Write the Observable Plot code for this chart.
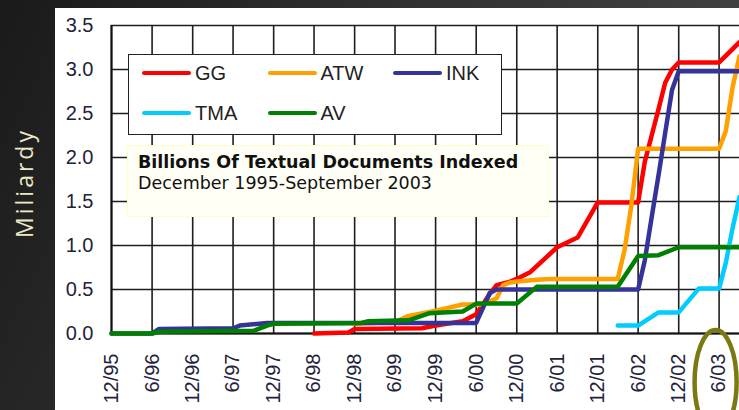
<!DOCTYPE html>
<html>
<head>
<meta charset="utf-8">
<script src="https://cdn.jsdelivr.net/npm/d3@7"></script>
<script src="https://cdn.jsdelivr.net/npm/@observablehq/plot@0.6"></script>
<style>
html, body { margin: 0; padding: 0; }
body {
  width: 739px; height: 410px; overflow: hidden; position: relative;
  background: linear-gradient(115deg, #1a1a1a 0%, #2c2c2c 35%, #4a4a4a 100%);
}
#ylab {
  position: absolute; left: 24px; top: 183px;
  transform: translate(-50%, -50%) rotate(-90deg);
  color: #eee8c6; font: 23px "Open Sans", sans-serif; letter-spacing: 3px; white-space: nowrap;
}
#panel { position: absolute; left: 55px; top: 8px; width: 684px; height: 402px; background: #fff; overflow: hidden; }
#legend {
  position: absolute; left: 73px; top: 46px; width: 374px; height: 81px; box-sizing: border-box;
  border: 1.5px solid #222; background: #fff;
}
.item { position: absolute; display: flex; align-items: center; height: 24px; transform: translateY(-50%); }
.sw { width: 49px; height: 4.5px; border-radius: 2.5px; margin-right: 4px; }
.lt { font: 20px "Liberation Sans", Arial, sans-serif; color: #222; }
#titlebox {
  position: absolute; left: 72px; top: 137px; width: 422px; height: 72px; box-sizing: border-box;
  border: 1.5px solid #ffffc4; background: #fffff6;
  font-family: "DejaVu Sans", Verdana, sans-serif; color: #111;
}
#t1 { position: absolute; left: 10px; top: 6px; font-size: 17.5px; font-weight: bold; white-space: nowrap; }
#t2 { position: absolute; left: 10px; top: 27px; font-size: 17.5px; white-space: nowrap; }
</style>
</head>
<body>
<div id="ylab">Miliardy</div>
<div id="panel"></div>
<script>
// ---- data ----
const seriesNames = ["GG", "ATW", "INK", "TMA", "AV"];
const seriesColors = ["#ff0000", "#ffa000", "#333399", "#00ccff", "#008000"];

const ggMonths = ["1998-06","1998-11","1998-12","1999-10","1999-12","2000-04","2000-06","2000-07","2000-08","2000-09","2000-11","2000-12","2001-02","2001-06","2001-09","2001-12","2002-06","2002-07","2002-08","2002-09","2002-10","2002-11","2002-12","2003-06","2003-09"];
const ggValues = [0.00,0.01,0.05,0.06,0.09,0.14,0.22,0.33,0.45,0.55,0.59,0.62,0.70,0.98,1.09,1.49,1.49,1.95,2.25,2.55,2.85,3.00,3.08,3.08,3.31];

const atwMonths = ["1998-12","1999-06","1999-08","1999-12","2000-04","2000-07","2000-09","2000-10","2000-11","2000-12","2001-03","2001-05","2002-03","2002-04","2002-05","2002-06","2003-06","2003-07","2003-08","2003-09"];
const atwValues = [0.11,0.13,0.20,0.26,0.33,0.33,0.40,0.55,0.58,0.59,0.61,0.62,0.62,0.95,1.45,2.10,2.10,2.30,2.80,3.15];

const inkMonths = ["1995-12","1996-06","1996-07","1997-06","1997-07","1997-11","2000-06","2000-08","2000-09","2002-06","2002-07","2002-08","2002-09","2002-10","2002-11","2002-12","2003-09"];
const inkValues = [0.00,0.00,0.05,0.06,0.09,0.12,0.12,0.46,0.50,0.50,0.83,1.32,1.80,2.28,2.77,2.98,2.98];

const tmaMonths = ["2002-03","2002-06","2002-09","2002-12","2003-03","2003-06","2003-07","2003-08","2003-09"];
const tmaValues = [0.09,0.09,0.24,0.24,0.51,0.51,0.80,1.20,1.55];

const avMonths = ["1995-12","1996-06","1996-07","1997-09","1997-11","1997-12","1999-01","1999-02","1999-08","1999-11","2000-04","2000-06","2000-12","2001-03","2002-03","2002-06","2002-09","2002-12","2003-09"];
const avValues = [0.00,0.00,0.02,0.03,0.09,0.11,0.12,0.14,0.15,0.23,0.25,0.34,0.34,0.53,0.53,0.88,0.89,0.98,0.98];

const xTickLabels = ["12/95","6/96","12/96","6/97","12/97","6/98","12/98","6/99","12/99","6/00","12/00","6/01","12/01","6/02","12/02","6/03"];
const yTicks = [0, 0.5, 1.0, 1.5, 2.0, 2.5, 3.0, 3.5];
const xStart = "1995-12";
const xEnd = "2003-09";
const highlightLabel = "6/03";

const titleText = "Billions Of Textual Documents Indexed";
const subtitleText = "December 1995-September 2003";

// ---- build ----
const parseMonth = s => { const [y, m] = s.split("-").map(Number); return new Date(Date.UTC(y, m - 1, 1)); };
const parseTick = s => { const [m, yy] = s.split("/").map(Number); return new Date(Date.UTC(yy < 50 ? 2000 + yy : 1900 + yy, m - 1, 1)); };
const tickDates = xTickLabels.map(parseTick);
const labelByTime = new Map(tickDates.map((d, i) => [+d, xTickLabels[i]]));

const allMonths = [ggMonths, atwMonths, inkMonths, tmaMonths, avMonths];
const allValues = [ggValues, atwValues, inkValues, tmaValues, avValues];
const series = seriesNames.map((name, k) => ({
  name, color: seriesColors[k],
  data: allMonths[k].map((m, i) => ({ date: parseMonth(m), value: allValues[k][i] }))
}));

const highlightDate = parseTick(highlightLabel);
const gridStyle = { stroke: "#1e1e1e", strokeOpacity: 1, strokeWidth: 1.6 };

const chart = Plot.plot({
  width: 684, height: 402,
  marginLeft: 56, marginRight: 0, marginTop: 17, marginBottom: 77,
  style: { background: "transparent", fontFamily: "'Liberation Sans', Arial, sans-serif", fontSize: "20px", color: "#22223a" },
  x: { type: "utc", domain: [parseMonth(xStart), parseMonth(xEnd)] },
  y: { domain: [0, 3.5] },
  marks: [
    Plot.gridX(tickDates, gridStyle),
    Plot.gridY(yTicks, gridStyle),
    Plot.ruleY([0], { stroke: "#111", strokeWidth: 2 }),
    Plot.ruleX([parseMonth(xStart)], { stroke: "#111", strokeWidth: 2 }),
    Plot.axisX(tickDates, { tickFormat: d => labelByTime.get(+d), tickSize: 0, tickRotate: -90, tickPadding: 20, label: null, fontSize: 20 }),
    Plot.axisY(yTicks, { tickFormat: d3.format(".1f"), tickSize: 0, tickPadding: 18, label: null, fontSize: 20 }),
    ...series.map(s => Plot.line(s.data, { x: "date", y: "value", stroke: s.color, strokeWidth: 4.5, strokeLinejoin: "round", strokeLinecap: "round" })),
    (index, scales) => {
      const cx = scales.x(highlightDate) - 3;
      const cy = scales.y(0) + 49;
      return d3.create("svg:ellipse")
        .attr("cx", cx).attr("cy", cy).attr("rx", 21).attr("ry", 52)
        .attr("fill", "none").attr("stroke", "#7b7a12").attr("stroke-width", 4.5).node();
    }
  ]
});

const panel = document.getElementById("panel");
panel.appendChild(chart);

// legend
const legend = document.createElement("div");
legend.id = "legend";
series.forEach((s, i) => {
  const col = i % 3, row = Math.floor(i / 3);
  const it = document.createElement("div");
  it.className = "item";
  it.style.left = (13 + col * 125.5) + "px";
  it.style.top = (18 + row * 40) + "px";
  it.innerHTML = `<div class="sw" style="background:${s.color}"></div><span class="lt">${s.name}</span>`;
  legend.appendChild(it);
});
panel.appendChild(legend);

// title box
const tb = document.createElement("div");
tb.id = "titlebox";
tb.innerHTML = `<div id="t1">${titleText}</div><div id="t2">${subtitleText}</div>`;
panel.appendChild(tb);
</script>
</body>
</html>
